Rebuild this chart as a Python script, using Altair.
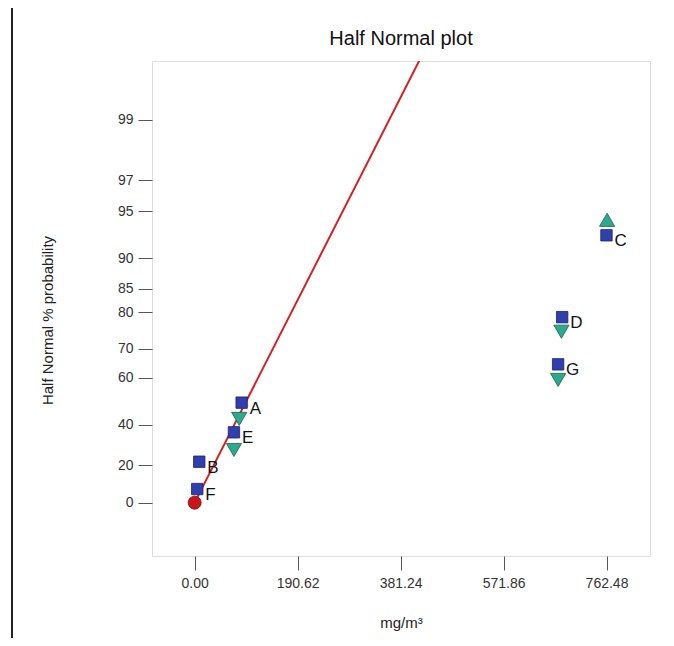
import altair as alt
import pandas as pd
from statistics import NormalDist

_nd = NormalDist()


def half_normal_z(pct):
    return _nd.inv_cdf(0.5 + pct / 200.0)


# ---- data ----
sq_labels = ["A", "B", "C", "D", "E", "F", "G"]
sq_effect = [87.0, 8.5, 762.4, 680.4, 72.7, 4.8, 672.9]
sq_prob = [49.9, 21.7, 92.8, 78.8, 36.4, 7.3, 64.8]

tri_labels = ["A", "C", "D", "E", "G"]
tri_effect = [82.5, 763.6, 679.0, 72.7, 672.9]
tri_prob = [42.7, 94.3, 75.0, 27.7, 59.1]
tri_dir = ["down", "up", "down", "down", "down"]

origin_effect = [0.0]
origin_prob = [0.0]

line_effect = [0.0, 430.0]
line_prob = [0.0, 99.79]

x_ticks = [0.00, 190.62, 381.24, 571.86, 762.48]
y_ticks = [0, 20, 40, 60, 70, 80, 85, 90, 95, 97, 99]

chart_title = ["Half Normal plot"]

# ---- tables ----
sq = pd.DataFrame({"label": sq_labels, "effect": sq_effect, "prob": sq_prob})
sq["z"] = [half_normal_z(p) for p in sq["prob"]]
tri = pd.DataFrame({"label": tri_labels, "effect": tri_effect, "prob": tri_prob, "dir": tri_dir})
tri["z"] = [half_normal_z(p) for p in tri["prob"]]
org = pd.DataFrame({"effect": origin_effect, "prob": origin_prob})
org["z"] = [half_normal_z(p) for p in org["prob"]]
ln = pd.DataFrame({"effect": line_effect, "prob": line_prob})
ln["z"] = [half_normal_z(p) for p in ln["prob"]]

FONT = "Liberation Sans"

xscale = alt.Scale(domain=[-79, 843], nice=False, zero=False)
yscale = alt.Scale(domain=[-0.359, 2.972], nice=False, zero=False)

xenc = alt.X(
    "effect:Q",
    scale=xscale,
    axis=alt.Axis(
        values=x_ticks,
        format=".2f",
        title="mg/m³",
        grid=False,
        domain=False,
        tickSize=14,
        tickColor="#555555",
        labelPadding=6,
        labelFontSize=14,
        labelFont=FONT,
        labelColor="#333333",
        titleFont=FONT,
        titleFontSize=15,
        titleFontWeight="normal",
        titleColor="#222222",
        titleY=66,
        titleBaseline="middle",
    ),
)
yenc = alt.Y(
    "z:Q",
    scale=yscale,
    axis=alt.Axis(
        values=[half_normal_z(v) for v in y_ticks],
        labelExpr="round(200*(cumulativeNormal(datum.value)-0.5))",
        title="Half Normal % probability",
        grid=False,
        domain=False,
        tickSize=14,
        tickColor="#555555",
        labelPadding=5,
        labelFontSize=14,
        labelFont=FONT,
        labelColor="#333333",
        titleFont=FONT,
        titleFontSize=15,
        titleFontWeight="normal",
        titleColor="#222222",
        titleX=-105,
        titleY=259,
        titleAlign="center",
        titleBaseline="middle",
    ),
)

line = alt.Chart(ln).mark_line(color="#d42020", strokeWidth=2, clip=True).encode(x=xenc, y=yenc)

squares = alt.Chart(sq).mark_point(
    shape="square", filled=True, size=130, color="#2f3fae", stroke="#1a2270", strokeWidth=0.8, opacity=1
).encode(x="effect:Q", y="z:Q")

tris = alt.Chart(tri).mark_point(
    filled=True, size=230, color="#2bab8c", stroke="#1d5e4d", strokeWidth=0.8, opacity=1
).encode(
    x="effect:Q",
    y="z:Q",
    shape=alt.Shape(
        "dir:N",
        scale=alt.Scale(domain=["down", "up"], range=["triangle-down", "triangle-up"]),
        legend=None,
    ),
)

circ = alt.Chart(org).mark_point(
    shape="circle", filled=True, size=170, color="#c8151b", stroke="#7a0d10", strokeWidth=0.8, opacity=1
).encode(x="effect:Q", y="z:Q")

text = alt.Chart(sq).mark_text(
    align="left", baseline="middle", dx=8, dy=6, fontSize=17, font=FONT, color="#111111"
).encode(x="effect:Q", y="z:Q", text="label:N")

frame = alt.Chart(pd.DataFrame({"a": [0]})).mark_rule(color="#222222", strokeWidth=2).encode(
    x=alt.value(-140), y=alt.value(-60), y2=alt.value(640)
)

title = alt.Chart(pd.DataFrame({"t": chart_title})).mark_text(
    align="center", baseline="middle", fontSize=20, font=FONT, color="#111111"
).encode(text="t:N", x=alt.value(249), y=alt.value(-22))

chart = (
    alt.layer(line, frame, squares, tris, circ, text, title)
    .properties(
        width=498,
        height=495,
        autosize=alt.AutoSizeParams(type="none"),
        padding={"left": 144, "top": 53, "right": 16, "bottom": 82},
    )
    .configure_view(stroke="#8a8a8a", strokeWidth=1.5)
    .configure(background="white")
)

chart.save("out.html", embed_options={"renderer": "svg", "actions": False})
